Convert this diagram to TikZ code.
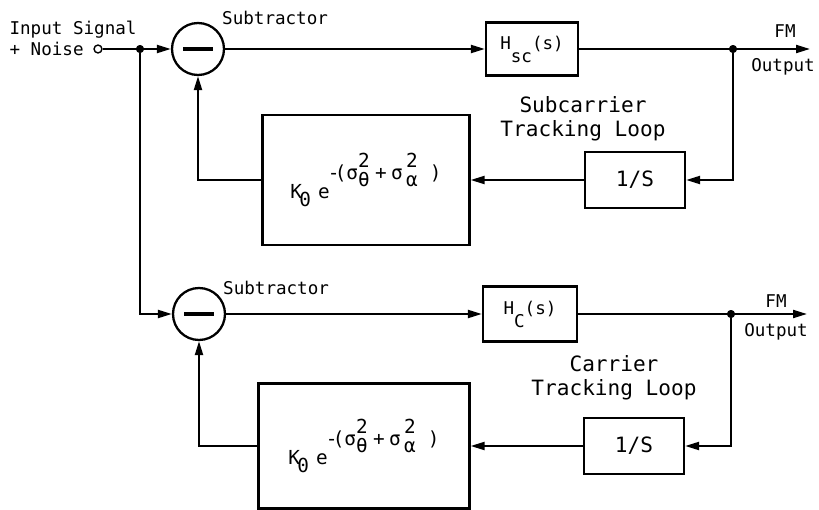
\documentclass[tikz,border=0pt]{standalone}
\usepackage{fontspec}
\setmainfont{DejaVu Sans Mono}
\usetikzlibrary{arrows.meta, positioning}

\newcommand{\loopgain}{\fontsize{11}{13}\selectfont
  K\kern-1.5pt\raisebox{-4.5pt}{0}\kern4pt e\kern-1pt\raisebox{10.8pt}{-\kern-2.7pt(σ\rlap{\raisebox{-4pt}{θ}}\raisebox{6.8pt}{2}\kern3pt+\kern2.5pt
  σ\kern1.9pt\rlap{\raisebox{-4pt}{α}}\raisebox{6.8pt}{2}\kern7pt)}}

\begin{document}
\begin{tikzpicture}[x=0.02cm, y=-0.02cm,
  every node/.style={font=\fontsize{10}{12}\selectfont},
  big/.style={font=\fontsize{12}{13.6}\selectfont},
  blockbox/.style={draw, line width=1.3pt, inner sep=0pt},
  sum/.style={draw, circle, line width=1.3pt, minimum size=1.04cm, inner sep=0pt},
  dot/.style={circle, fill, inner sep=0pt, minimum size=4.5pt},
  port/.style={circle, draw, line width=0.8pt, fill=white, inner sep=0pt, minimum size=4.5pt},
  wire/.style={line width=1.2pt},
  flow/.style={wire, -{Triangle[length=2.8mm, width=1.6mm]}}]

\useasboundingbox (0,0) rectangle (819,510);

\node[port] (in) at (98,49) {};
\node[left=2pt of in] (noise) {+ Noise};
\node[anchor=base west] (insig) at ([yshift=12pt]noise.base west) {Input Signal};
\node[dot] (split) at (140,49) {};

% subcarrier loop
\node[sum] (sub1) at (198,49) {\rule[-1.1pt]{0.6cm}{2.2pt}};
\node[anchor=base west] (sublbl1) at ([shift={(18,-24)}]sub1.center) {Subtractor};
\node[blockbox, minimum width=1.84cm, minimum height=1.06cm] (hsc) at (532,49) {H\raisebox{-7.4pt}{sc}(s)};
\node[dot] (tap1) at (733,49) {};
\coordinate (fmout1) at (810,49);
\node[anchor=base] (fm1) at (785,38) {FM};
\node[anchor=base] (outlbl1) at (783,72) {Output};
\node[big, align=center] (loop1) at (583,119) {Subcarrier\\Tracking Loop};
\node[blockbox, big, minimum width=2cm, minimum height=1.12cm] (int1) at (635,180) {1/S};
\node[blockbox, big, minimum width=4.14cm, minimum height=2.6cm] (gain1) at (366,180) {\loopgain};

% carrier loop
\node[sum] (sub2) at (199,314) {\rule[-1.1pt]{0.6cm}{2.2pt}};
\node[anchor=base west] (sublbl2) at ([shift={(18,-19)}]sub2.center) {Subtractor};
\node[blockbox, minimum width=1.88cm, minimum height=1.1cm] (hc) at (530,314) {H\raisebox{-7.4pt}{C}(s)};
\node[dot] (tap2) at (731,314) {};
\coordinate (fmout2) at (807,314);
\node[anchor=base] (fm2) at (776,307) {FM};
\node[anchor=base] (outlbl2) at (776,337) {Output};
\node[big, align=center] (loop2) at (614,378) {Carrier\\Tracking Loop};
\node[blockbox, big, minimum width=2cm, minimum height=1.12cm] (int2) at (634,446) {1/S};
\node[blockbox, big, minimum width=4.22cm, minimum height=2.5cm] (gain2) at (364,446) {\loopgain};

\draw[flow] (in) -- (sub1);
\draw[flow] (split) |- (sub2);

\draw[flow] (sub1) -- (hsc);
\draw[flow] (hsc) -- (fmout1);
\draw[flow] (tap1) |- (int1);
\draw[flow] (int1) -- (gain1);
\draw[flow] (gain1) -| (sub1);

\draw[flow] (sub2) -- (hc);
\draw[flow] (hc) -- (fmout2);
\draw[flow] (tap2) |- (int2);
\draw[flow] (int2) -- (gain2);
\draw[flow] (gain2) -| (sub2);

\node[dot] at (split) {};
\node[dot] at (tap1) {};
\node[dot] at (tap2) {};

\end{tikzpicture}
\end{document}
